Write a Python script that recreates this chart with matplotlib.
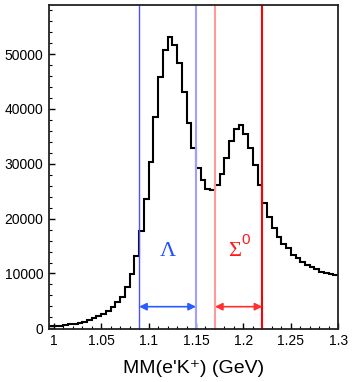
import matplotlib.pyplot as plt
import numpy as np

plt.rcParams.update(
    {
        "font.family": ["Liberation Sans", "DejaVu Sans"],
        "font.size": 10,
        "axes.linewidth": 1.3,
        "axes.edgecolor": "#222222",
        "xtick.direction": "in",
        "ytick.direction": "in",
        "xtick.major.size": 4,
        "ytick.major.size": 4,
        "xtick.minor.size": 2.5,
        "ytick.minor.size": 2.5,
        "xtick.major.width": 1.0,
        "ytick.major.width": 1.0,
        "xtick.minor.width": 0.8,
        "ytick.minor.width": 0.8,
    }
)

# ======================
# data
# ======================
bin_start = 0.995  # GeV, lower edge of first bin
bin_width = 0.005  # GeV
counts = [
    350, 420, 500, 600, 720, 850, 1000, 1200, 1480, 1800,
    2220, 2700, 3200, 3950, 4850, 5800, 7480, 9900, 13250, 17750,
    23540, 30400, 38500, 45730, 50660, 53100, 51700, 48360, 43070, 37520,
    32850, 29200, 27060, 25420, 25180, 26150, 28100, 31020, 34180, 36370,
    37100, 35400, 32850, 29800, 26150, 22920, 20250, 18250, 16720, 15380,
    14600, 13380, 12770, 12150, 11550, 11130, 10770, 10330, 10040, 9850,
    9670,
]

lambda_cut = [1.09, 1.15]
sigma_cut = [1.17, 1.22]
arrow_y = 3950
label_y = 14100

x_ticks = [1.0, 1.05, 1.1, 1.15, 1.2, 1.25, 1.3]
x_ticklabels = ["1", "1.05", "1.1", "1.15", "1.2", "1.25", "1.3"]
y_ticks = [0, 10000, 20000, 30000, 40000, 50000]

edges = bin_start + bin_width * np.arange(len(counts) + 1)

# ======================
# figure
# ======================
fig = plt.figure(figsize=(3.53, 3.82), dpi=100)
ax = fig.add_axes([0.139, 0.139, 0.819, 0.848])

ax.stairs(counts, edges, baseline=None, color="black", linewidth=1.5)

# cut lines
ax.axvline(lambda_cut[0], color="#5050ff", linewidth=1.0)
ax.axvline(lambda_cut[1], color="#a0a0ff", linewidth=1.5)
ax.axvline(sigma_cut[0], color="#ff9a9a", linewidth=1.5)
ax.axvline(sigma_cut[1], color="#ff0000", linewidth=1.5)

# arrows
ax.annotate(
    "", xy=(lambda_cut[1], arrow_y), xytext=(lambda_cut[0], arrow_y),
    arrowprops=dict(arrowstyle="<|-|>", color="#2a5cff", lw=1.2,
                    mutation_scale=11, shrinkA=0, shrinkB=0),
)
ax.annotate(
    "", xy=(sigma_cut[1], arrow_y), xytext=(sigma_cut[0], arrow_y),
    arrowprops=dict(arrowstyle="<|-|>", color="#ff3030", lw=1.2,
                    mutation_scale=11, shrinkA=0, shrinkB=0),
)

# particle labels
ax.text(np.mean(lambda_cut), label_y, "Λ", color="#1f4fff",
        family="Liberation Serif", fontsize=16, ha="center", va="center")
sig_x = np.mean(sigma_cut) - 0.004
ax.text(sig_x, label_y, "Σ", color="#ff1a1a",
        family="Liberation Serif", fontsize=16, ha="center", va="center")
ax.annotate("0", xy=(sig_x, label_y), xytext=(5, 3), textcoords="offset points",
            color="#ff1a1a", fontsize=11, ha="left", va="bottom")

# axes
ax.set_xlim(0.995, 1.3)
ax.set_ylim(-100, 58950)
ax.set_xticks(x_ticks)
ax.set_xticklabels(x_ticklabels)
ax.set_xticks(np.arange(1.0, 1.3001, 0.01), minor=True)
ax.set_yticks(y_ticks)
ax.set_yticks(np.arange(0, 58001, 2000), minor=True)
ax.tick_params(axis="both", which="major", labelsize=10, pad=4)
ax.set_xlabel("MM(e'K⁺) (GeV)", fontsize=14, labelpad=8)

plt.savefig("out.png", dpi=100)
